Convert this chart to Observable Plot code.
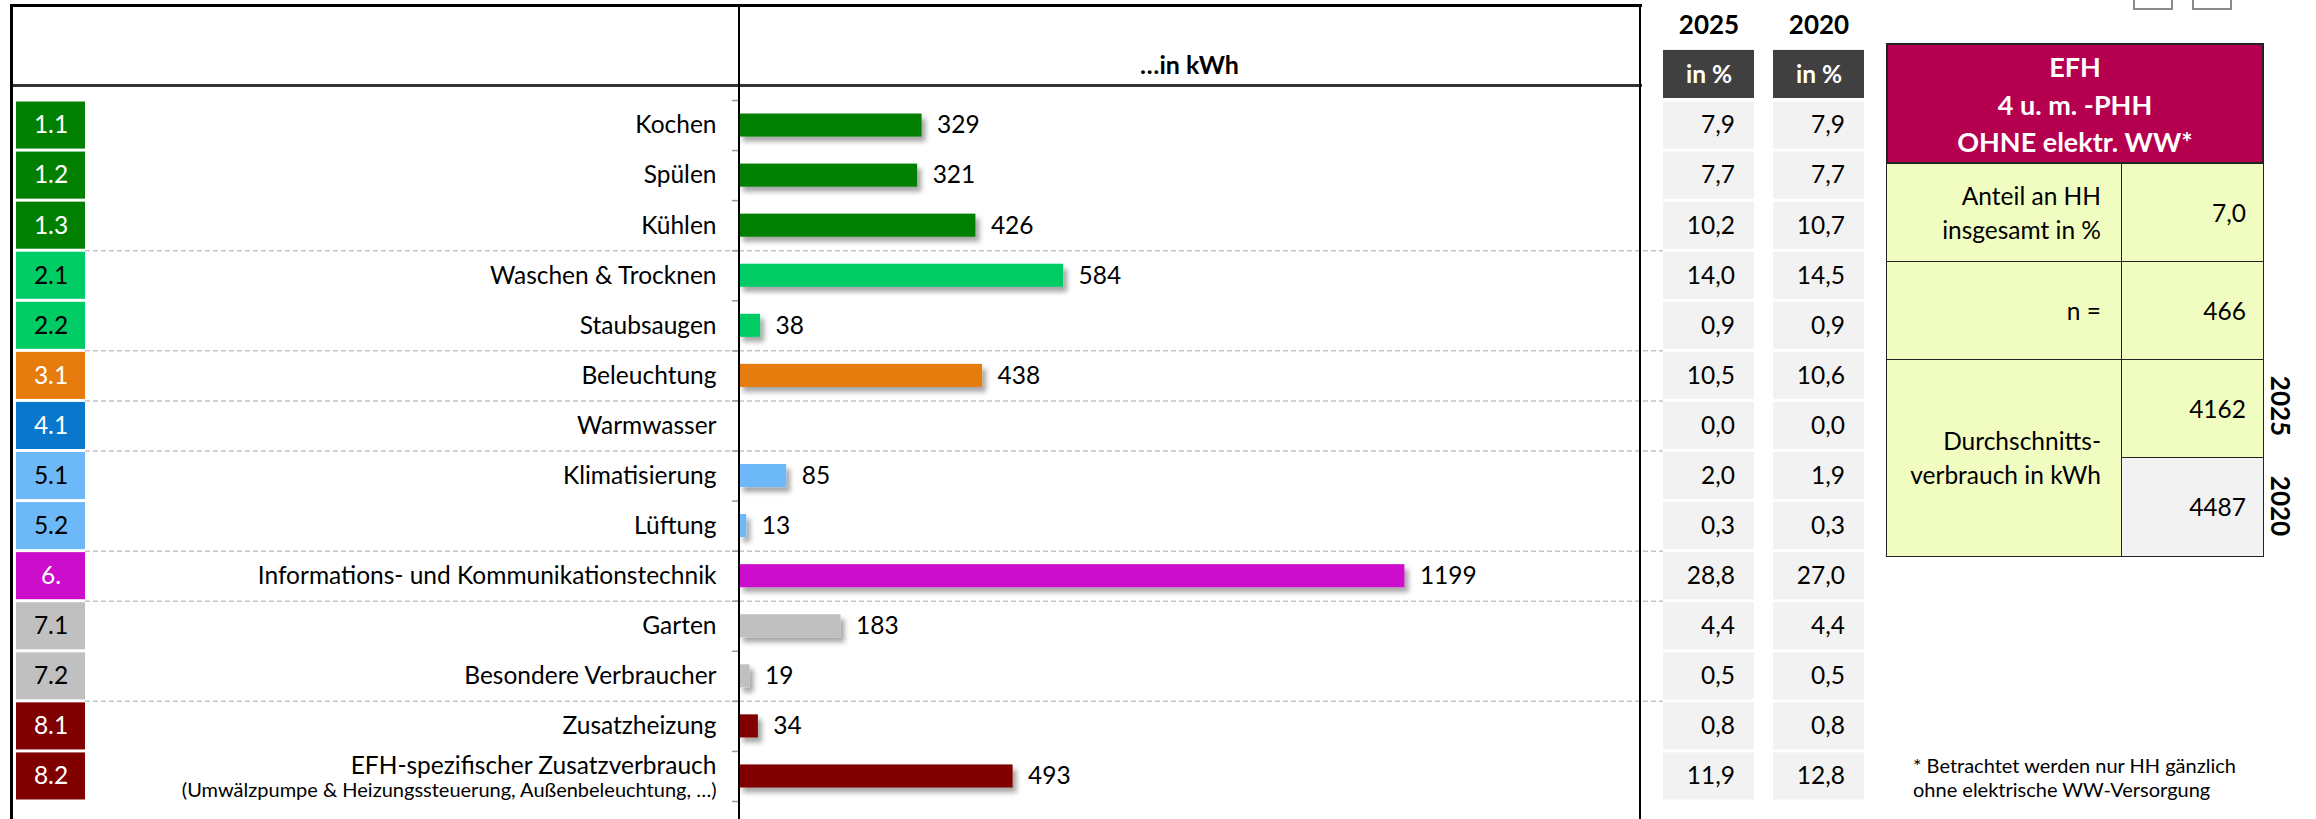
<!DOCTYPE html>
<html><head><meta charset="utf-8">
<script src="https://cdn.jsdelivr.net/npm/d3@7"></script>
<script src="https://cdn.jsdelivr.net/npm/@observablehq/plot@0.6"></script>
<style>
html,body{margin:0;padding:0;background:#fff;}
#root{position:relative;width:2316px;height:819px;overflow:hidden;background:#fff;font-family:Lato,"Open Sans",sans-serif;color:#000;}
#root svg{position:absolute;left:0;top:0;}
.abs{position:absolute;box-sizing:border-box;}
</style></head><body><div id="root"></div>
<script>
// ---------- data ----------
const codes = ["1.1","1.2","1.3","2.1","2.2","3.1","4.1","5.1","5.2","6.","7.1","7.2","8.1","8.2"];
const labels = ["Kochen","Spülen","Kühlen","Waschen & Trocknen","Staubsaugen","Beleuchtung","Warmwasser","Klimatisierung","Lüftung","Informations- und Kommunikationstechnik","Garten","Besondere Verbraucher","Zusatzheizung","EFH-spezifischer Zusatzverbrauch"];
const subLabels = {"8.2": "(Umwälzpumpe & Heizungssteuerung, Außenbeleuchtung, …)"};
const kwh = [329,321,426,584,38,438,0,85,13,1199,183,19,34,493];
const pct2025 = [7.9,7.7,10.2,14.0,0.9,10.5,0.0,2.0,0.3,28.8,4.4,0.5,0.8,11.9];
const pct2020 = [7.9,7.7,10.7,14.5,0.9,10.6,0.0,1.9,0.3,27.0,4.4,0.5,0.8,12.8];
const years = ["2025","2020"];
const groupFill = {"1":"#007f00","2":"#00cc66","3":"#e67b0e","4":"#0877cc","5":"#6db9f8","6":"#cc0ecc","7":"#c0c0c0","8":"#800000"};
const groupInk  = {"1":"#ffffff","2":"#000000","3":"#ffffff","4":"#ffffff","5":"#000000","6":"#ffffff","7":"#000000","8":"#ffffff"};
const axisTitle = "…in kWh";
const panelTitle = ["EFH","4 u. m. -PHH","OHNE elektr. WW*"];
const shareLabel = ["Anteil an HH","insgesamt in %"];
const shareValue = 7.0;
const nLabel = "n =";
const nValue = 466;
const avgLabel = ["Durchschnitts-","verbrauch in kWh"];
const avg2025 = 4162;
const avg2020 = 4487;
const footnote = ["* Betrachtet werden nur HH gänzlich","ohne elektrische WW-Versorgung"];

// ---------- derived table ----------
const rows = codes.map((c,i)=>{const g=c.split(".")[0];return {i,code:c,label:labels[i],sub:subLabels[c]||null,kwh:kwh[i],group:g,fill:groupFill[g],ink:groupInk[g]};});
const boundaries = rows.filter((d,k)=>k<rows.length-1 && rows[k+1].group!==d.group).map(d=>d.i+1);
const pctLong = rows.flatMap(d=>[{i:d.i,year:"2025",v:pct2025[d.i]},{i:d.i,year:"2020",v:pct2020[d.i]}]);
const fmt1 = v => v.toFixed(1).replace(".", ",");

const W=2316, H=819, FONT='Lato, "Open Sans", sans-serif', FS=24.5;
const root = document.getElementById("root");
const yScale = {domain:[0,codes.length], range:[100,801], axis:null};
const baseStyle = {background:"transparent", overflow:"visible", fontFamily:FONT, fontSize:FS+"px", color:"#000"};
const dash = {stroke:"#c4c4c4", strokeDasharray:"5,3", strokeWidth:1.5};

// ---------- left: badges + labels ----------
const left = Plot.plot({
  width:W, height:H, marginLeft:85, marginRight:W-739, marginTop:100, marginBottom:18,
  x:{type:"band", domain:["code"], range:[16,85], padding:0, axis:null},
  y:yScale, color:{type:"identity"}, style:baseStyle,
  marks:[
    Plot.ruleY(boundaries, dash),
    Plot.barY(rows,{x:()=>"code", y1:"i", y2:d=>d.i+1, fill:"fill", insetTop:1.5, insetBottom:1.5}),
    Plot.text(rows,{x:()=>"code", y:d=>d.i+0.5, text:"code", fill:"ink", fontSize:FS}),
    Plot.text(rows.filter(d=>!d.sub),{frameAnchor:"right", y:d=>d.i+0.5, text:"label", textAnchor:"end", dx:-23, fontSize:FS}),
    Plot.text(rows.filter(d=>d.sub),{frameAnchor:"right", y:d=>d.i+0.5, text:"label", textAnchor:"end", dx:-23, dy:-10, fontSize:FS}),
    Plot.text(rows.filter(d=>d.sub),{frameAnchor:"right", y:d=>d.i+0.5, text:"sub", textAnchor:"end", dx:-23, dy:14, fontSize:20})
  ]
});
root.appendChild(left);

// ---------- category axis ticks (row boundaries) ----------
const ticks = Plot.plot({
  width:W, height:H, marginLeft:732, marginRight:W-739, marginTop:100, marginBottom:18,
  x:{domain:[0,1], axis:null}, y:yScale, style:baseStyle,
  marks:[ Plot.ruleY(d3.range(codes.length+1), {stroke:"#9a9a9a", strokeWidth:1.5}) ]
});
root.appendChild(ticks);

// ---------- middle: bars ----------
const bars = Plot.plot({
  width:W, height:H, marginLeft:739, marginRight:W-1663, marginTop:100, marginBottom:18,
  x:{domain:[0,1665], axis:null},
  y:yScale, color:{type:"identity"}, style:baseStyle,
  marks:[
    Plot.ruleY(boundaries, dash),
    Plot.rect(rows,{x1:()=>0, x2:"kwh", y1:"i", y2:d=>d.i+1, fill:"fill", insetTop:13.5, insetBottom:13.5}),
    Plot.text(rows.filter(d=>d.kwh>0),{x:"kwh", y:d=>d.i+0.5, text:d=>String(d.kwh), textAnchor:"start", dx:15, fontSize:FS})
  ]
});
root.appendChild(bars);
{
  const s = d3.select(bars);
  const f = s.insert("defs",":first-child").append("filter").attr("id","sh")
    .attr("x","-5%").attr("y","-40%").attr("width","120%").attr("height","220%");
  f.append("feDropShadow").attr("dx",4).attr("dy",5).attr("stdDeviation",2.5).attr("flood-color","#000").attr("flood-opacity",0.35);
  s.selectAll('g[aria-label="rect"]').attr("filter","url(#sh)");
}

// ---------- right: percentage columns ----------
const pct = Plot.plot({
  width:W, height:H, marginLeft:1663, marginRight:W-1864, marginTop:100, marginBottom:18,
  x:{type:"band", domain:years, range:[1663,1864], paddingInner:19/110, paddingOuter:0, axis:null},
  y:yScale, style:baseStyle,
  marks:[
    Plot.barY(pctLong,{x:"year", y1:"i", y2:d=>d.i+1, fill:"#f2f2f2", insetTop:1.5, insetBottom:1.5}),
    Plot.barY(years,{x:d=>d, y1:()=>-1, y2:()=>0, fill:"#404040", insetBottom:2}),
    Plot.text(pctLong,{x:"year", y:d=>d.i+0.5, text:d=>fmt1(d.v), textAnchor:"end", dx:26, fontSize:FS}),
    Plot.text(years,{x:d=>d, y:()=>-0.5, text:()=>"in %", fill:"#fff", fontWeight:"bold", fontSize:FS}),
    Plot.text(years,{x:d=>d, y:()=>-1.5, text:d=>d, fontWeight:"bold", fontSize:26})
  ]
});
root.appendChild(pct);

// ---------- frame lines ----------
function box(l,t,w,h,extra){const d=document.createElement("div");d.className="abs";Object.assign(d.style,{left:l+"px",top:t+"px",width:w+"px",height:h+"px"},extra||{});root.appendChild(d);return d;}
box(10,4,1632,2.5,{background:"#000"});
box(10,84,1632,2.5,{background:"#333"});
box(10,4,2.5,H,{background:"#000"});
box(738,4,2,H,{background:"#000"});
box(1639,4,2,H,{background:"#000"});
// window buttons (cut off at top)
box(2133,-28,40,38,{border:"2px solid #8a8a8a"});
box(2192,-28,40,38,{border:"2px solid #8a8a8a"});

// axis title
box(739,44,901,40,{textAlign:"center",fontWeight:"bold",fontSize:"25px",lineHeight:"40px"}).textContent=axisTitle;

// ---------- info panel ----------
const BL="1.5px solid #222";
const hd = box(1886,43,378,121,{background:"#b4004e",border:"2px solid #222",color:"#fff",fontWeight:"bold",fontSize:"27px",textAlign:"center",lineHeight:"37.5px",paddingTop:"3px"});
hd.innerHTML = panelTitle.join("<br>");
const pale="#f0fcc0";
function cell(l,t,w,h,html,bg,pr){const c=box(l,t,w,h,{background:bg,border:BL,display:"flex",alignItems:"center",justifyContent:"flex-end",textAlign:"right",paddingRight:pr+"px",fontSize:FS+"px",lineHeight:"34px"});c.innerHTML=html;return c;}
cell(1886,163,236,100,shareLabel.join("<br>"),pale,20);
cell(2121,163,143,100,fmt1(shareValue),pale,17);
cell(1886,261,236,100,nLabel,pale,20);
cell(2121,261,143,100,String(nValue),pale,17);
cell(1886,359,236,198,avgLabel.join("<br>"),pale,20);
cell(2121,359,143,100,String(avg2025),pale,17);
cell(2121,457,143,100,String(avg2020),"#f2f2f2",17);
function vlab(txt,cy){const d=box(2281-40,cy-15,80,30,{transform:"rotate(90deg)",textAlign:"center",fontWeight:"bold",fontSize:"26px",lineHeight:"30px"});d.textContent=txt;}
vlab(years[0],406);
vlab(years[1],506);

// footnote
box(1913,753,400,52,{fontSize:"20px",lineHeight:"24px"}).innerHTML=footnote.join("<br>");
</script></body></html>
